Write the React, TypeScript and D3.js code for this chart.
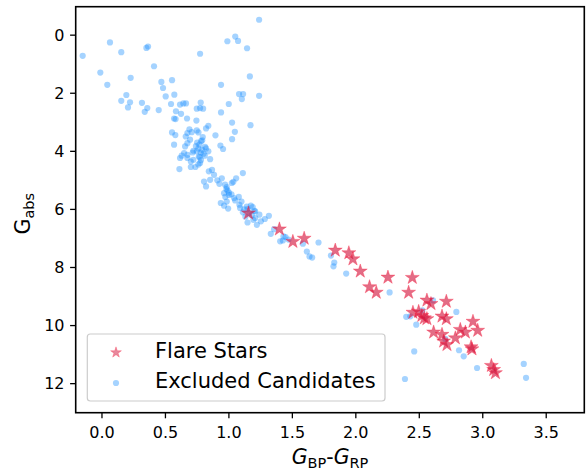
import React from "react";
import * as d3 from "d3";

const candX = [
  -0.152, 0.063, 0.152, 0.363, 0.35, 0.773, 0.988, 1.05, 1.072, 1.143, 1.238,
  -0.013, 0.042, 0.226, 0.41, 0.468, 0.481, 0.552, 0.502, 0.57, 0.192, 0.152,
  0.221, 0.205, 0.315, 0.357, 0.337, 0.447, 0.544, 0.641, 0.662, 0.583, 0.623,
  0.615, 0.568, 0.58, 0.67, 0.744, 0.778, 0.773, 0.747, 0.797, 0.938, 0.999,
  0.938, 1.08, 1.112, 1.102, 1.165, 1.238, 1.025, 1.17, 1.047, 1.025, 0.894,
  0.933, 0.954, 0.552, 0.578, 0.568, 0.689, 0.673, 0.66, 0.707, 0.747, 0.76,
  0.82, 0.838, 0.794, 0.781, 0.767, 0.694, 0.673, 0.655, 0.812, 0.747, 0.715,
  0.778, 0.838, 0.628, 0.673, 0.647, 0.615, 0.673, 0.72, 0.763, 0.81, 0.852,
  0.773, 0.736, 0.7, 0.61, 1.11, 1.057, 1.035, 0.983, 0.989, 0.962, 1.0, 0.972,
  0.909, 0.925, 0.944, 0.883, 0.852, 0.82, 0.804, 0.867, 0.842, 1.023, 0.936,
  0.962, 0.994, 1.041, 1.078, 1.099, 1.088, 1.11, 1.147, 1.173, 0.983, 1.049,
  1.083, 1.141, 1.188, 1.207, 1.147, 1.22, 1.252, 1.283, 1.315, 1.193, 1.207,
  1.33, 1.43, 1.356, 1.404, 1.425, 1.446, 1.47, 1.583, 1.706, 1.614, 1.635,
  1.656, 1.804, 1.83, 1.824, 1.924, 2.266, 2.397, 2.429, 2.476, 2.524, 2.608,
  2.792, 2.705, 2.813, 2.85, 2.46, 2.955, 2.387, 3.323, 3.341,
  0.76, 0.79, 0.74, 0.8, 0.77, 0.72, 0.75, 0.79, 0.82, 0.7, 0.78, 0.76,
  0.98, 1.0, 0.97, 1.02, 1.12, 1.16, 1.18, 1.13, 1.2, 1.24,
];
const candG = [
  0.71, 0.25, 0.585, 0.39, 0.44, 0.64, 0.21, 0.05, 0.2, 0.45, -0.53,
  1.29, 1.71, 1.47, 1.07, 1.61, 1.82, 1.55, 2.11, 2.05, 2.06, 2.26,
  2.31, 2.49, 2.33, 2.51, 2.64, 2.58, 2.37, 2.35, 2.35, 2.62, 2.71,
  2.39, 2.87, 2.89, 2.87, 2.94, 2.32, 2.51, 2.53, 2.53, 1.71, 2.37,
  2.66, 2.03, 2.03, 2.2, 1.42, 2.09, 3.01, 3.1, 3.33, 3.58, 3.45,
  3.8, 3.92, 3.35, 3.44, 3.77, 3.24, 3.37, 3.49, 3.34, 3.28, 3.35,
  3.21, 3.12, 3.51, 3.65, 3.77, 3.6, 3.72, 3.83, 3.85, 4.0, 4.04,
  4.04, 4.0, 4.15, 4.12, 4.06, 4.23, 4.23, 4.29, 4.18, 4.15, 4.27,
  4.4, 4.54, 4.54, 4.61, 4.75, 4.93, 5.05, 5.23, 5.35, 5.44, 5.5, 5.57,
  5.0, 5.12, 4.93, 4.81, 4.98, 5.21, 5.04, 4.64, 4.69, 5.09, 5.78,
  5.87, 5.97, 5.61, 5.57, 5.73, 5.95, 6.1, 5.99, 5.87, 5.73, 5.69,
  5.84, 5.9, 5.92, 6.07, 6.45, 6.53, 6.41, 6.33, 6.22, 6.36, 6.3,
  6.84, 6.93, 6.68, 7.1, 7.07, 6.95, 7.04, 7.18, 7.14, 7.45, 7.62,
  7.66, 7.59, 7.83, 7.96, 8.21, 8.86, 9.7, 9.68, 9.97, 9.48, 9.13,
  9.53, 10.46, 10.85, 11.06, 10.89, 11.46, 11.84, 11.32, 11.8,
  3.9, 3.95, 3.82, 4.08, 4.2, 3.98, 3.7, 3.62, 3.9, 4.35, 4.3, 4.45,
  5.3, 5.42, 5.15, 5.48, 6.0, 6.12, 6.2, 6.25, 6.05, 6.18,
];

const flareX = [
  1.154, 1.398, 1.504, 1.593, 1.838, 1.945, 1.977, 2.035, 2.253, 2.108, 2.161,
  2.416, 2.445, 2.56, 2.592, 2.713, 2.45, 2.495, 2.52, 2.56, 2.54, 2.679, 2.713,
  2.923, 2.613, 2.679, 2.692, 2.718, 2.823, 2.863, 2.784, 2.96, 2.908, 2.915,
  3.068, 3.1, 3.086,
];
const flareG = [
  6.13, 6.68, 7.11, 7.0, 7.41, 7.5, 7.71, 8.13, 8.34, 8.67, 8.86,
  8.86, 8.35, 9.13, 9.25, 9.17, 9.55, 9.52, 9.66, 9.77, 9.74, 9.68, 9.77,
  9.86, 10.23, 10.31, 10.54, 10.66, 10.14, 10.23, 10.43, 10.17, 10.74, 10.81,
  11.38, 11.63, 11.52,
];

const xTicks = [0, 0.5, 1, 1.5, 2, 2.5, 3, 3.5];
const yTicks = [0, 2, 4, 6, 8, 10, 12];
const legendLabels = ["Flare Stars", "Excluded Candidates"];

const W = 587;
const H = 472;
const L = 75.7, R = 584.3, T = 6.7, B = 412.7;
const FONT = "DejaVu Sans, sans-serif";

export default function App() {
  const x = d3.scaleLinear().domain([-0.207, 3.8]).range([L, R]);
  const y = d3.scaleLinear().domain([-0.98, 13.0]).range([T, B]);
  const starPath = d3.symbol().type(d3.symbolStar).size(60)() as string;
  const starLegend = d3.symbol().type(d3.symbolStar).size(36)() as string;
  const blue = "#1E90FF";
  const red = "#d0143c";

  return (
    <svg
      width={W}
      height={H}
      style={{ position: "absolute", left: 0, top: 0, background: "#fff" }}
      fontFamily={FONT}
    >
      <rect x={0} y={0} width={W} height={H} fill="#fff" />
      <g>
        {candX.map((v, i) => (
          <circle key={"c" + i} cx={x(v)} cy={y(candG[i])} r={3.1} fill={blue} fillOpacity={0.4} />
        ))}
      </g>
      <g>
        {flareX.map((v, i) => (
          <path
            key={"f" + i}
            d={starPath}
            transform={`translate(${x(v)},${y(flareG[i])})`}
            fill={red}
            fillOpacity={0.62}
            stroke="#ff2040"
            strokeOpacity={0.35}
            strokeWidth={1}
          />
        ))}
      </g>
      {/* frame */}
      <rect x={L} y={T} width={R - L} height={B - T} fill="none" stroke="#000" strokeWidth={1.6} />
      {/* x ticks */}
      {xTicks.map((t) => (
        <g key={"xt" + t}>
          <line x1={x(t)} x2={x(t)} y1={B} y2={B + 5.6} stroke="#000" strokeWidth={1.3} />
          <text x={x(t)} y={438.3} fontSize={16} textAnchor="middle" fill="#000">
            {d3.format(".1f")(t)}
          </text>
        </g>
      ))}
      {/* y ticks */}
      {yTicks.map((t) => (
        <g key={"yt" + t}>
          <line x1={L - 5.6} x2={L} y1={y(t)} y2={y(t)} stroke="#000" strokeWidth={1.3} />
          <text x={64.5} y={y(t)} dy="0.36em" fontSize={16} textAnchor="end" fill="#000">
            {t}
          </text>
        </g>
      ))}
      {/* x label */}
      <text x={(L + R) / 2} y={464} fontSize={20.5} textAnchor="middle" fill="#000">
        <tspan fontStyle="italic">G</tspan>
        <tspan fontSize={14.5} dy={4}>BP</tspan>
        <tspan dy={-4}>-</tspan>
        <tspan fontStyle="italic">G</tspan>
        <tspan fontSize={14.5} dy={4}>RP</tspan>
      </text>
      {/* y label */}
      <text
        transform={`translate(30,${(T + B) / 2 + 4}) rotate(-90)`}
        fontSize={20.5}
        textAnchor="middle"
        fill="#000"
      >
        <tspan>G</tspan>
        <tspan fontSize={14.5} dy={4}>abs</tspan>
      </text>
      {/* legend */}
      <rect x={87.3} y={334} width={297.7} height={67} rx={3} fill="#fff" fillOpacity={0.8} stroke="#cccccc" strokeWidth={1.2} />
      <path d={starLegend} transform="translate(116,352.5)" fill={red} fillOpacity={0.5} stroke="#ff2040" strokeOpacity={0.3} />
      <circle cx={116} cy={383} r={3.1} fill={blue} fillOpacity={0.4} />
      <text x={155} y={357.7} fontSize={21} fill="#000">{legendLabels[0]}</text>
      <text x={155} y={388.3} fontSize={21} fill="#000">{legendLabels[1]}</text>
    </svg>
  );
}
